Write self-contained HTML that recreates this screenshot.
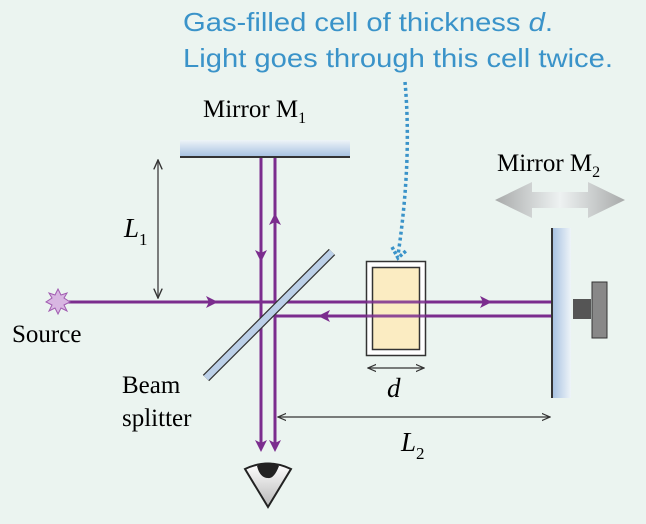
<!DOCTYPE html>
<html><head><meta charset="utf-8"><style>
html,body{margin:0;padding:0;background:#ebf4f0;}
svg{display:block;}
.s{font-family:"Liberation Serif",serif;}
</style></head><body>
<svg width="646" height="524" viewBox="0 0 646 524">
<defs>
<linearGradient id="m1g" x1="0" y1="0" x2="0" y2="1"><stop offset="0" stop-color="#eef4f8"/><stop offset="1" stop-color="#a9c3e2"/></linearGradient>
<linearGradient id="m2g" x1="0" y1="0" x2="1" y2="0"><stop offset="0" stop-color="#a9c3e2"/><stop offset="1" stop-color="#eef4f8"/></linearGradient>
<linearGradient id="ag" x1="0" y1="0" x2="1" y2="0"><stop offset="0" stop-color="#a8aaaa"/><stop offset="0.5" stop-color="#eef2f2"/><stop offset="1" stop-color="#a8aaaa"/></linearGradient>
<linearGradient id="eg" x1="0" y1="0" x2="0" y2="1"><stop offset="0" stop-color="#ffffff"/><stop offset="1" stop-color="#b8b8b8"/></linearGradient>
<marker id="ka" viewBox="0 0 10 10" refX="9" refY="5" markerWidth="7" markerHeight="7" orient="auto-start-reverse"><path d="M0,1 L9,5 L0,9" fill="none" stroke="#333" stroke-width="1.3"/></marker>
</defs>
<g fill="#3a93c9" font-size="26" font-family="Liberation Sans, sans-serif">
<text x="183" y="31" textLength="370" lengthAdjust="spacingAndGlyphs">Gas-filled cell of thickness <tspan font-style="italic">d</tspan>.</text>
<text x="183" y="67" textLength="430" lengthAdjust="spacingAndGlyphs">Light goes through this cell twice.</text>
</g>
<path d="M405,82 Q412,160 398,255" fill="none" stroke="#3a93c9" stroke-width="3.5" stroke-dasharray="3,3"/>
<path d="M392,247 L398,258 L407,250" fill="none" stroke="#3a93c9" stroke-width="3.5" stroke-dasharray="3,2"/>
<rect x="180" y="140" width="170" height="16" fill="url(#m1g)"/>
<line x1="180" y1="157" x2="350" y2="157" stroke="#333" stroke-width="2"/>
<text class="s" font-family="Liberation Serif, serif" x="203" y="117" font-size="25">Mirror M<tspan font-size="16" dy="6">1</tspan></text>
<g>
<line x1="158" y1="160" x2="158" y2="298" stroke="#555" stroke-width="1.5" marker-start="url(#ka)" marker-end="url(#ka)"/>
<text class="s" font-family="Liberation Serif, serif" x="124" y="237" font-size="27" font-style="italic">L<tspan font-size="17" font-style="normal" dy="8">1</tspan></text>
</g>
<g stroke="#7b2d8e" stroke-width="3" fill="none">
<line x1="68" y1="302" x2="552" y2="302"/>
<line x1="275" y1="316" x2="552" y2="316"/>
<line x1="261" y1="158" x2="261" y2="445"/>
<line x1="275" y1="158" x2="275" y2="445"/>
</g>
<g fill="#7b2d8e">
<path d="M206,296 L218,302 L206,308 L209,302Z"/>
<path d="M480,296 L492,302 L480,308 L483,302Z"/>
<path d="M330,310 L318,316 L330,322 L327,316Z"/>
<path d="M255,250 L261,262 L267,250 L261,253Z"/>
<path d="M269,225 L275,213 L281,225 L275,222Z"/>
<path d="M255,440 L261,452 L267,440 L261,443Z"/>
<path d="M269,440 L275,452 L281,440 L275,443Z"/>
</g>
<g>
<polygon points="58,289 61,295 67,293 64,298 70,302 64,305 67,311 61,308 58,314 55,308 49,311 52,305 46,302 52,298 49,293 55,295" fill="#d8b6e2" stroke="#a05bb0" stroke-width="1"/>
<text class="s" font-family="Liberation Serif, serif" x="12" y="342" font-size="25">Source</text>
</g>
<g>
<line x1="206" y1="378" x2="332" y2="252" stroke="#333" stroke-width="9"/>
<line x1="206" y1="378" x2="332" y2="252" stroke="#bcd0e8" stroke-width="6.5"/>
<text class="s" font-family="Liberation Serif, serif" x="122" y="393" font-size="25">Beam</text>
<text class="s" font-family="Liberation Serif, serif" x="122" y="426" font-size="25">splitter</text>
</g>
<g>
<rect x="366.5" y="261.5" width="59" height="94" fill="#fff" stroke="#333" stroke-width="1.5"/>
<rect x="372.5" y="267.5" width="47" height="82" fill="#fbecc2" stroke="#333" stroke-width="1.5"/>
</g>
<line x1="302" y1="302" x2="552" y2="302" stroke="#7b2d8e" stroke-width="3" opacity="0.85"/>
<line x1="340" y1="316" x2="552" y2="316" stroke="#7b2d8e" stroke-width="3" opacity="0.85"/>
<g>
<line x1="368" y1="368" x2="424" y2="368" stroke="#333" stroke-width="1.3" marker-start="url(#ka)" marker-end="url(#ka)"/>
<text class="s" font-family="Liberation Serif, serif" x="387" y="397" font-size="27" font-style="italic">d</text>
</g>
<g>
<rect x="553" y="228" width="18" height="170" fill="url(#m2g)"/>
<line x1="552" y1="228" x2="552" y2="398" stroke="#333" stroke-width="2"/>
<rect x="573" y="299" width="18" height="20" fill="#555"/>
<rect x="592" y="282" width="15" height="56" fill="#888" stroke="#333" stroke-width="1"/>
<text class="s" font-family="Liberation Serif, serif" x="497" y="171" font-size="25">Mirror M<tspan font-size="16" dy="6">2</tspan></text>
<polygon points="495,200 532,182 532,192 588,192 588,182 625,200 588,218 588,208 532,208 532,218" fill="url(#ag)"/>
</g>
<g>
<line x1="278" y1="417" x2="550" y2="417" stroke="#333" stroke-width="1.3" marker-start="url(#ka)" marker-end="url(#ka)"/>
<text class="s" font-family="Liberation Serif, serif" x="401" y="451" font-size="27" font-style="italic">L<tspan font-size="17" font-style="normal" dy="8">2</tspan></text>
</g>
<g>
<path d="M245,469 L268,507 L291,469 Q268,458 245,469Z" fill="url(#eg)" stroke="#222" stroke-width="2"/>
<path d="M257,466 Q268,459 279,466 Q274,479 268,478 Q260,478 257,466Z" fill="#222"/>
</g>
</svg>
</body></html>
